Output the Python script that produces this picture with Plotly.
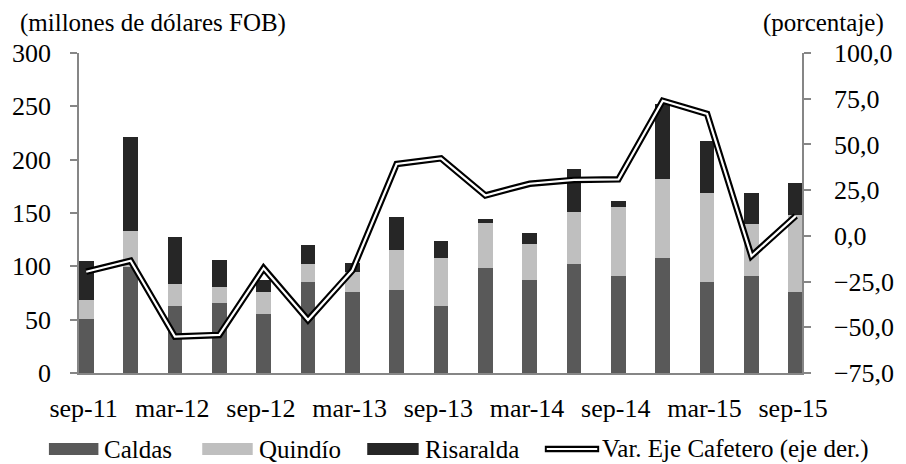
import plotly.graph_objects as go

# ---------------- data ----------------
categories = ["sep-11", "dic-11", "mar-12", "jun-12", "sep-12", "dic-12", "mar-13", "jun-13",
              "sep-13", "dic-13", "mar-14", "jun-14", "sep-14", "dic-14", "mar-15", "jun-15", "sep-15"]
caldas = [51, 99, 62.5, 66, 55, 85, 75.5, 78, 62.5, 98, 87, 102, 90.5, 107.5, 85, 90.5, 75.5]
quindio = [17, 34.5, 20.5, 15, 20.5, 17, 19, 37, 45, 43, 33.5, 48.5, 65.5, 74.5, 84, 49, 72.5]
risaralda = [37, 87.5, 44.5, 24.5, 11.5, 18, 9, 31, 16, 3.5, 11, 41, 5.5, 70, 48.5, 29.5, 30]
var_eje = [-19.6, -13.6, -55.1, -54.2, -17.7, -46.0, -19.0, 39.3, 42.4, 22.1, 28.5, 30.6, 30.9,
           73.9, 66.7, -11.0, 10.9]
tick_labels = ["sep-11", "mar-12", "sep-12", "mar-13", "sep-13", "mar-14", "sep-14", "mar-15", "sep-15"]

series_names = ["Caldas", "Quindío", "Risaralda"]
line_name = "Var. Eje Cafetero (eje der.)"

# ---------------- style ----------------
W, H = 906, 464
L, R, T, B = 73, 818, 53, 373
FONT = "Liberation Serif"
FS = 26
FS_TITLE = 25
FS_LEG = 25
AXIS_COLOR = "#868686"
colors = ["#595959", "#BFBFBF", "#262626"]


def font(size=FS):
    return dict(family=FONT, size=size, color="black")


x = list(range(len(categories)))
x_range = [-0.163, len(categories) - 1 + 0.14]


def px_x(px):
    return (px - L) / (R - L)


def px_y(py):
    return (B - py) / (B - T)


fig = go.Figure()
for name, vals, col in zip(series_names, [caldas, quindio, risaralda], colors):
    fig.add_trace(go.Bar(x=x, y=vals, name=name, marker=dict(color=col, line=dict(width=0)),
                         width=0.33, showlegend=False))

# double line: black outer, white inner
fig.add_trace(go.Scatter(x=x, y=var_eje, yaxis="y2", mode="lines", name=line_name,
                         line=dict(color="black", width=6.5), showlegend=False))
fig.add_trace(go.Scatter(x=x, y=var_eje, yaxis="y2", mode="lines", name=line_name,
                         line=dict(color="white", width=2.2), showlegend=False, hoverinfo="skip"))

label_pos = [i - 0.06 for i in range(0, len(categories), 2)]
tick_pos = [i - 0.18 for i in range(0, len(categories), 2)]

fig.update_layout(
    width=W, height=H,
    margin=dict(l=L, r=W - R, t=T, b=H - B, pad=0),
    paper_bgcolor="white", plot_bgcolor="white",
    separators=",.",
    barmode="stack",
    font=font(),
    xaxis=dict(range=x_range, tickmode="array", tickvals=label_pos, ticktext=tick_labels,
               tickfont=font(), ticks="", showline=True, linecolor=AXIS_COLOR, linewidth=1.5,
               showgrid=False, zeroline=False, ticklabelstandoff=11, fixedrange=True),
    xaxis2=dict(range=x_range, overlaying="x", anchor="y", tickmode="array", tickvals=tick_pos,
                ticks="outside", ticklen=7, tickwidth=1.5, tickcolor=AXIS_COLOR,
                showticklabels=False, showline=False, showgrid=False, zeroline=False),
    yaxis=dict(range=[0, 300], dtick=50, tick0=0, ticks="outside", ticklen=7, tickwidth=1.5,
               tickfont=font(), tickcolor=AXIS_COLOR, showline=True, linecolor=AXIS_COLOR,
               linewidth=1.5, showgrid=False, zeroline=False, ticklabelstandoff=14),
    yaxis2=dict(range=[-75, 100], dtick=25, tick0=-75, overlaying="y", side="right",
                tickformat=".1f", tickfont=font(), ticks="outside", ticklen=7, tickwidth=1.5,
                tickcolor=AXIS_COLOR, showline=True, linecolor=AXIS_COLOR, linewidth=1.5,
                showgrid=False, zeroline=False, ticklabelstandoff=18),
    showlegend=False,
)

# axis titles
fig.add_annotation(text="(millones de dólares FOB)", xref="paper", yref="paper",
                   x=px_x(10), y=px_y(23), xanchor="left", yanchor="middle", showarrow=False,
                   font=font(FS_TITLE))
fig.add_annotation(text="(porcentaje)", xref="paper", yref="paper",
                   x=px_x(905), y=px_y(23), xanchor="right", yanchor="middle", showarrow=False,
                   font=font(FS_TITLE))

# manual legend
leg_y = 449
swatches = [(42, 93, 97), (200, 252, 256), (370, 423, 427)]
for (x0, x1, tx), name, col in zip(swatches, series_names, colors):
    fig.add_shape(type="rect", xref="paper", yref="paper", x0=px_x(x0), x1=px_x(x1),
                  y0=px_y(leg_y - 6), y1=px_y(leg_y + 6), fillcolor=col, line=dict(width=0))
    fig.add_annotation(text=name, xref="paper", yref="paper", x=px_x(tx), y=px_y(leg_y),
                       xanchor="left", yanchor="middle", showarrow=False, font=font(FS_LEG))
fig.add_shape(type="line", xref="paper", yref="paper", x0=px_x(553), x1=px_x(609),
              y0=px_y(leg_y), y1=px_y(leg_y), line=dict(color="black", width=6.5))
fig.add_shape(type="line", xref="paper", yref="paper", x0=px_x(555), x1=px_x(607),
              y0=px_y(leg_y), y1=px_y(leg_y), line=dict(color="white", width=2.2))
fig.add_annotation(text=line_name, xref="paper", yref="paper", x=px_x(610), y=px_y(leg_y),
                   xanchor="left", yanchor="middle", showarrow=False, font=font(FS_LEG))

fig.write_html(
    "out.html",
    post_script="document.body.style.margin='0';document.body.style.padding='0';",
    config={"displayModeBar": False},
)
